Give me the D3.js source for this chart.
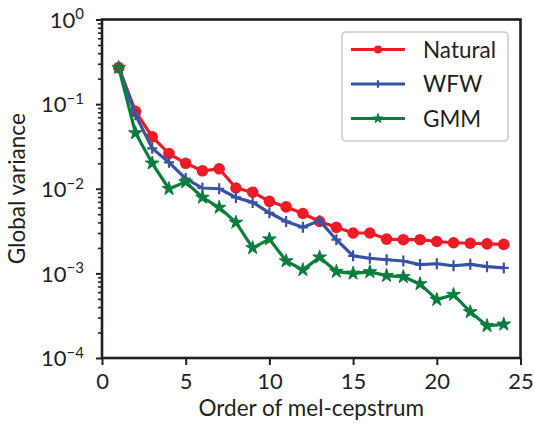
<!DOCTYPE html>
<html>
<head>
<meta charset="utf-8">
<script src="https://cdn.jsdelivr.net/npm/d3@7"></script>
<style>
  body { margin: 0; background: #fff; }
  text { font-family: Lato, "Open Sans", sans-serif; fill: #231f20; }
</style>
</head>
<body>
<div id="chart"></div>
<script>
// Data
const order = [1, 2, 3, 4, 5, 6, 7, 8, 9, 10, 11, 12, 13, 14, 15, 16, 17, 18, 19, 20, 21, 22, 23, 24];
const natural = [0.27, 0.082, 0.041, 0.026, 0.020, 0.0163, 0.0172, 0.0102, 0.0091, 0.0071, 0.0061, 0.0051,
                 0.0041, 0.0035, 0.0030, 0.0030, 0.00254, 0.0025, 0.0025, 0.00238, 0.0023, 0.00227, 0.00223, 0.0022];
const wfw = [0.27, 0.075, 0.030, 0.0205, 0.0132, 0.0102, 0.0100, 0.0079, 0.0069, 0.0052, 0.0041, 0.0035,
             0.0042, 0.0025, 0.00161, 0.00151, 0.00145, 0.0014, 0.00127, 0.0013, 0.00123, 0.00128, 0.0012, 0.00116];
const gmm = [0.27, 0.0456, 0.020, 0.0100, 0.012, 0.0079, 0.0060, 0.0040, 0.0020, 0.00254, 0.0014, 0.0011,
             0.00155, 0.00105, 0.0010, 0.00104, 0.00094, 0.00091, 0.00075, 0.00049, 0.00056, 0.00035, 0.00024, 0.00025];
const seriesNames = ["Natural", "WFW", "GMM"];
const xTicks = [0, 5, 10, 15, 20, 25];
const yTicks = [1, 1e-1, 1e-2, 1e-3, 1e-4];

const colors = { Natural: "#ed1c24", WFW: "#3953a4", GMM: "#0b7d3e" };

const margin = { top: 19.5, right: 13.5, bottom: 70, left: 102 };
const width = 534 - margin.left - margin.right;
const height = 428 - margin.top - margin.bottom;

const svg = d3.select("#chart")
    .append("svg")
    .attr("width", 534)
    .attr("height", 428)
    .append("g")
    .attr("transform", "translate(" + margin.left + "," + margin.top + ")");

const x = d3.scaleLinear().domain([0, 25]).range([0, width]);
const y = d3.scaleLog().domain([1e-4, 1]).range([height, 0]);

// minor log ticks
const minor = [];
[1e-4, 1e-3, 1e-2, 1e-1].forEach(function(dec) {
    for (let k = 2; k <= 9; k++) minor.push(k * dec);
});

svg.append("g")
    .attr("class", "minor")
    .call(d3.axisLeft(y).tickValues(minor).tickSize(4).tickFormat(""))
    .call(g => g.select(".domain").remove())
    .call(g => g.selectAll("line").attr("stroke", "#231f20").attr("stroke-width", 1.6));

const yAxis = svg.append("g")
    .call(d3.axisLeft(y).tickValues(yTicks).tickSize(6).tickPadding(9))
    .call(g => g.select(".domain").remove())
    .call(g => g.selectAll("line").attr("stroke", "#231f20").attr("stroke-width", 2));

yAxis.selectAll(".tick text").each(function(d) {
    const t = d3.select(this).text("").attr("font-size", 22).attr("dy", "0.35em").attr("x", -18);
    t.append("tspan").text("10");
    t.append("tspan")
        .attr("dy", "-0.55em")
        .attr("font-size", 15)
        .text(Math.round(Math.log10(d)) === 0 ? "0" : "\u2212" + Math.abs(Math.round(Math.log10(d))));
});

const xAxis = svg.append("g")
    .attr("transform", "translate(0," + height + ")")
    .call(d3.axisBottom(x).tickValues(xTicks).tickSize(7).tickPadding(8))
    .call(g => g.select(".domain").remove())
    .call(g => g.selectAll("line").attr("stroke", "#231f20").attr("stroke-width", 2));
xAxis.selectAll(".tick text").attr("font-size", 22);

// frame
svg.append("rect")
    .attr("width", width)
    .attr("height", height)
    .attr("fill", "none")
    .attr("stroke", "#231f20")
    .attr("stroke-width", 2.6);

// axis labels
svg.append("text")
    .attr("x", width / 2)
    .attr("y", height + 58)
    .attr("text-anchor", "middle")
    .attr("font-size", 22.5)
    .text("Order of mel-cepstrum");

svg.append("text")
    .attr("transform", "rotate(-90)")
    .attr("x", -height / 2)
    .attr("y", -77)
    .attr("text-anchor", "middle")
    .attr("font-size", 22.5)
    .text("Global variance");

// series
const series = [
    { name: "Natural", values: natural },
    { name: "WFW", values: wfw },
    { name: "GMM", values: gmm }
];

const line = d3.line()
    .x((d, i) => x(order[i]))
    .y(d => y(d));

const plus = "M-5,0H5M0,-5.5V5.5";

function drawMarker(g, name, scale) {
    if (name === "Natural") {
        g.append("circle").attr("r", 5.8 * scale).attr("fill", colors[name]);
    } else if (name === "WFW") {
        g.append("path").attr("d", plus).attr("transform", "scale(" + scale + ")")
            .attr("stroke", colors[name]).attr("stroke-width", 2.2 / scale).attr("fill", "none");
    } else {
        g.append("path").attr("d", d3.symbol().type(d3.symbolStar).size(58 * scale * scale)())
            .attr("fill", colors[name]).attr("stroke", colors[name]).attr("stroke-width", 1);
    }
}

series.forEach(function(s) {
    svg.append("path")
        .datum(s.values)
        .attr("fill", "none")
        .attr("stroke", colors[s.name])
        .attr("stroke-width", 3.2)
        .attr("stroke-linejoin", "round")
        .attr("d", line);

    s.values.forEach(function(v, i) {
        const m = svg.append("g").attr("transform", "translate(" + x(order[i]) + "," + y(v) + ")");
        drawMarker(m, s.name, 1);
    });
});

// legend
const legend = svg.append("g").attr("transform", "translate(" + (342 - margin.left) + "," + (32 - margin.top) + ")");
legend.append("rect")
    .attr("width", 166)
    .attr("height", 109)
    .attr("rx", 4)
    .attr("fill", "#fff")
    .attr("stroke", "#cccccc")
    .attr("stroke-width", 1.6);

seriesNames.forEach(function(name, i) {
    const row = legend.append("g").attr("transform", "translate(0," + (17.5 + i * 34.5) + ")");
    row.append("line")
        .attr("x1", 9).attr("x2", 63)
        .attr("stroke", colors[name])
        .attr("stroke-width", 3.2);
    const m = row.append("g").attr("transform", "translate(36,0)");
    drawMarker(m, name, 0.7);
    row.append("text")
        .attr("x", 81)
        .attr("dy", "0.36em")
        .attr("font-size", 22.5)
        .text(name);
});
</script>
</body>
</html>
